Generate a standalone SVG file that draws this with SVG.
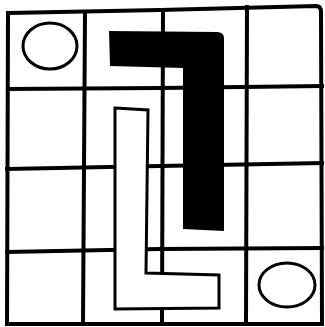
<svg xmlns="http://www.w3.org/2000/svg" width="325" height="327" viewBox="0 0 325 327">
<style>
.ln{stroke:#000;stroke-width:4;fill:none;stroke-linecap:square}
.thin{stroke:#000;stroke-width:3;fill:none}
</style>
<rect width="325" height="327" fill="#fff"/>
<g id="grid">
<path class="ln" d="M8,13 L160,10 L316,6 Q321,6 321,12 L322,324 L7,324 Z"/>
<path class="ln" d="M85,12 L83,324"/>
<path class="ln" d="M163,10 L162,324"/>
<path class="ln" d="M247,7 L246,324"/>
<path class="ln" d="M8,89 L160,88 L322,86"/>
<path class="ln" d="M7,169 L160,166 L322,163"/>
<path class="ln" d="M7,252 L160,249 L322,248"/>
</g>
<g id="hook">
<path d="M109,31 L218,32 Q224,33 224,38 L224,231 L183,229 L183,68 L110,66 Z" fill="#000"/>
</g>
<g id="L">
<path class="thin" fill="#fff" d="M115,108 L148,110 L146,273 L219,275 L219,308 L115,309 Z" style="fill:#fff"/>
</g>
<g id="circles">
<ellipse class="thin" cx="50" cy="46" rx="27" ry="23"/>
<ellipse class="thin" cx="287" cy="285" rx="28" ry="22"/>
</g>
</svg>
